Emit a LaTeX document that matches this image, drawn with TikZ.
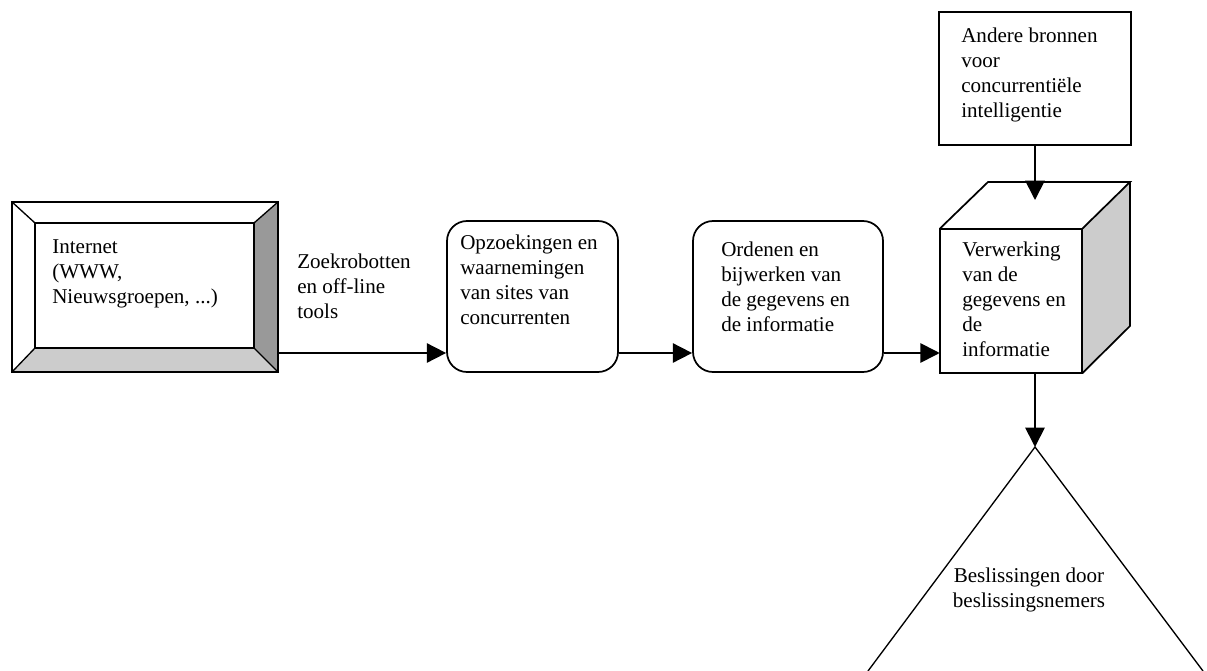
\documentclass[tikz,border=0pt]{standalone}
\usepackage{fontspec}
\setmainfont{Liberation Serif}
\usetikzlibrary{arrows.meta,calc}

\tikzset{
  x=0.75pt, y=-0.75pt,
  outline/.style={draw=black, line width=1.3pt},
  txt/.style={font=\fontsize{15.8}{18.75}\selectfont, inner sep=0pt, align=left, anchor=north west},
  conn/.style={line width=1.3pt, -{Triangle[length=14.5pt, width=14.5pt]}},
  roundbox/.style={outline, rounded corners=15pt, minimum width=#1, minimum height=113.25pt, fill=white},
  plainbox/.style={outline, rectangle, fill=white},
}

\begin{document}
\begin{tikzpicture}
\useasboundingbox (0,0) rectangle (1207,671);

% horizontal lane shared by the left-to-right connectors
\coordinate (lane) at (0,353);

% ---- bevelled box: Internet ----
\node[draw=none, minimum width=199.5pt, minimum height=127.5pt, inner sep=0pt] (internet) at (145,287) {};
\coordinate (inNW) at (35,223);
\coordinate (inNE) at (254,223);
\coordinate (inSE) at (254,348);
\coordinate (inSW) at (35,348);
\fill[white] (internet.north west) -- (internet.north east) -- (inNE) -- (inNW) -- cycle;
\fill[white] (internet.north west) -- (inNW) -- (inSW) -- (internet.south west) -- cycle;
\fill[black!40] (internet.north east) -- (internet.south east) -- (inSE) -- (inNE) -- cycle;
\fill[black!20] (internet.south west) -- (inSW) -- (inSE) -- (internet.south east) -- cycle;
\draw[line width=1.3pt] (internet.north west) rectangle (internet.south east);
\draw[line width=1.3pt] (inNW) rectangle (inSE);
\draw[line width=1pt] (internet.north west) -- (inNW)
  (internet.north east) -- (inNE)
  (internet.south east) -- (inSE)
  (internet.south west) -- (inSW);
\node[txt] (internettxt) at (52,236) {\strut Internet\\(WWW,\\Nieuwsgroepen, ...)};

% ---- label on the first connector ----
\node[txt] (zoek) at (297,250.5) {\strut Zoekrobotten\\en off-line\\tools};

% ---- rounded process boxes ----
\node[roundbox=128.25pt] (opzoek) at (532.5,296.5) {};
\node[txt] (opzoektxt) at (460,231.5) {\strut Opzoekingen en\\waarnemingen\\van sites van\\concurrenten};

\node[roundbox=142.5pt] (orden) at (788,296.5) {};
\node[txt] (ordentxt) at (721,238.5) {\strut Ordenen en\\bijwerken van\\de gegevens en\\de informatie};

% ---- cube: Verwerking ----
\node[fill=white, minimum width=106.5pt, minimum height=108pt, inner sep=0pt] (cube) at (1011,301) {};
\coordinate (cubeTL) at (988,182);
\coordinate (cubeTR) at (1130,182);
\coordinate (cubeBR) at (1130,326);
\fill[white] (cube.north west) -- (cubeTL) -- (cubeTR) -- (cube.north east) -- cycle;
\fill[black!20] (cube.north east) -- (cubeTR) -- (cubeBR) -- (cube.south east) -- cycle;
\draw[line width=1.3pt, line join=miter]
  (cube.north west) -- (cubeTL) -- (cubeTR) -- (cube.north east)
  (cubeTR) -- (cubeBR) -- (cube.south east);
\draw[line width=1.3pt] (cube.north west) rectangle (cube.south east);
\node[txt] (cubetxt) at (962,238.5) {\strut Verwerking\\van de\\gegevens en\\de\\informatie};
\coordinate (cubetop) at (1035,200);
\coordinate (cubebottom) at (1035,373);

% ---- source box ----
\node[plainbox, minimum width=144pt, minimum height=99.75pt, inner sep=0pt] (andere) at (1035,78.5) {};
\node[txt] (anderetxt) at (961,25) {\strut Andere bronnen\\voor\\concurrentiële\\intelligentie};

% ---- decision triangle ----
\coordinate (apex) at (1035,447);
\coordinate (baseL) at (868,671);
\coordinate (baseR) at (1203,671);
\draw[line width=1pt] (baseL) -- (apex) -- (baseR);
\node[font=\fontsize{15.8}{18.75}\selectfont, align=center, inner sep=0pt] (besl) at (1029,590) {Beslissingen door\\beslissingsnemers};

% ---- connectors ----
\draw[conn] (internet.east |- lane) -- (opzoek.west |- lane);
\draw[conn] (opzoek.east |- lane) -- (orden.west |- lane);
\draw[conn] (orden.east |- lane) -- (cube.west |- lane);
\draw[conn] (andere.south) -- (cubetop);
\draw[conn] (cubebottom) -- (apex);
\end{tikzpicture}
\end{document}
